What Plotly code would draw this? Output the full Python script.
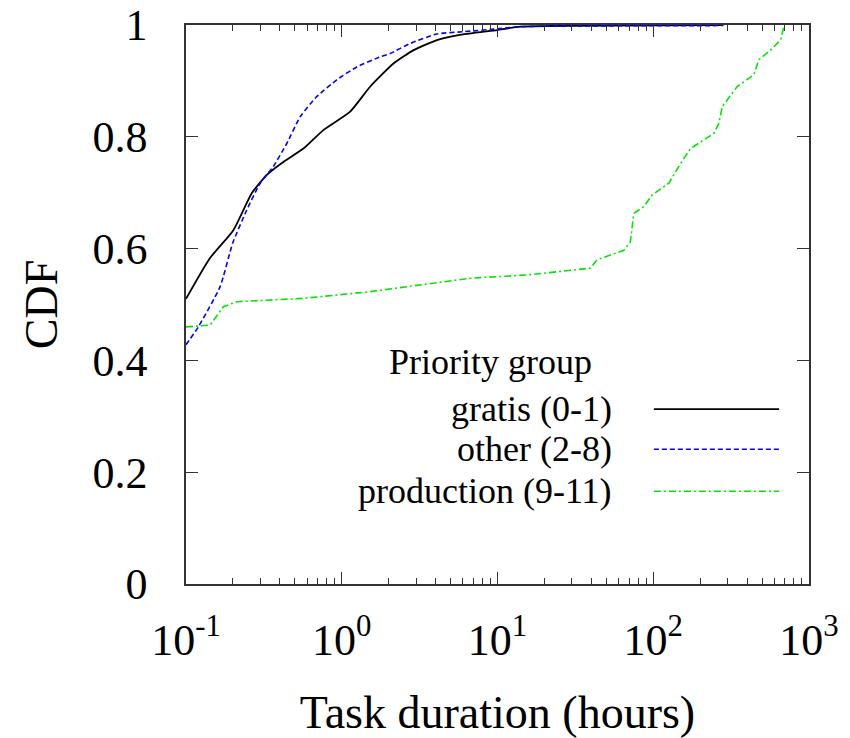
import plotly.graph_objects as go

# Task duration CDFs (hours) per priority group
gratis_hours = [0.1, 0.1426, 0.2014, 0.2642, 0.3304, 0.4217, 0.5675, 0.7621, 1.132,
                1.524, 2.148, 2.891, 4.083, 5.623, 9.93, 14.03, 281.8]
gratis_cdf = [0.510, 0.583, 0.633, 0.699, 0.732, 0.755, 0.779, 0.812, 0.845,
              0.890, 0.931, 0.955, 0.973, 0.982, 0.991, 0.997, 1.0]

other_hours = [0.1, 0.12, 0.1656, 0.1995, 0.2455, 0.2992, 0.3639, 0.4436, 0.5408,
               0.6918, 0.929, 1.250, 1.766, 2.046, 2.754, 4.083, 6.026, 9.93, 14.03, 281.8]
other_cdf = [0.428, 0.460, 0.532, 0.610, 0.669, 0.717, 0.747, 0.788, 0.836,
             0.872, 0.902, 0.925, 0.943, 0.949, 0.967, 0.984, 0.988, 0.993, 0.997, 0.999]

production_hours = [0.1, 0.1426, 0.1738, 0.2118, 0.5675, 1.524, 4.083, 6.683, 15.85,
                    25.35, 39.45, 43.55, 64.71, 71.29, 73.28, 74.99, 86.90, 98.4,
                    125.9, 149.6, 173.4, 244.9, 263.6, 277.3, 345.9, 442.6, 476.4,
                    566.2, 656.1, 690.2]
production_cdf = [0.460, 0.463, 0.496, 0.505, 0.511, 0.523, 0.539, 0.547, 0.553,
                  0.559, 0.565, 0.580, 0.597, 0.612, 0.640, 0.663, 0.675, 0.696,
                  0.717, 0.752, 0.779, 0.806, 0.824, 0.854, 0.890, 0.911, 0.938,
                  0.955, 0.973, 0.997]

series_names = ["gratis (0-1)", "other (2-8)", "production (9-11)"]
series_colors = ["#000000", "#0000ff", "#00e600"]
series_dash = ["solid", "5px,3px", "7px,3px,2px,3px"]
series_width = [1.8, 1.6, 1.6]
series_shape = ["spline", "spline", "linear"]

x_tickvals = [0.1, 1, 10, 100, 1000]
x_ticktext = ["10<sup>-1</sup>", "10<sup>0</sup>", "10<sup>1</sup>",
              "10<sup>2</sup>", "10<sup>3</sup>"]
y_tickvals = [0, 0.2, 0.4, 0.6, 0.8, 1]
y_ticktext = ["0", "0.2", "0.4", "0.6", "0.8", "1"]

FONT = "'Liberation Serif', 'Times New Roman', serif"

fig = go.Figure()
data = [(gratis_hours, gratis_cdf), (other_hours, other_cdf),
        (production_hours, production_cdf)]
for (xs, ys), name, color, dash, w, shp in zip(data, series_names, series_colors,
                                               series_dash, series_width,
                                               series_shape):
    fig.add_trace(go.Scatter(x=xs, y=ys, mode="lines", name=name,
                             line=dict(color=color, dash=dash, width=w,
                                       shape=shp, smoothing=0.5),
                             showlegend=False))

# Legend block: title, right-aligned labels with line samples to their right
legend_rows_y = [0.313, 0.241, 0.166]
fig.add_annotation(x=0.488, y=0.397, xref="paper", yref="paper",
                   text="Priority group", showarrow=False,
                   font=dict(family=FONT, size=36, color="#000"),
                   xanchor="center", yanchor="middle")
for name, color, dash, w, yy in zip(series_names, series_colors, series_dash,
                                    series_width, legend_rows_y):
    fig.add_annotation(x=0.687, y=yy, xref="paper", yref="paper", text=name,
                       showarrow=False, xanchor="right", yanchor="middle",
                       font=dict(family=FONT, size=36, color="#000"))
    fig.add_shape(type="line", xref="paper", yref="paper",
                  x0=0.751, x1=0.952, y0=yy, y1=yy,
                  line=dict(color=color, dash=dash, width=w))

minor_x = [m * 10 ** e for e in (-1, 0, 1, 2) for m in range(2, 10)]

fig.update_xaxes(type="log", range=[-1, 3], tickmode="array",
                 tickvals=x_tickvals, ticktext=x_ticktext,
                 ticks="inside", ticklen=12, tickwidth=1.2, tickcolor="#333",
                 minor=dict(tickmode="array", tickvals=minor_x, ticks="inside",
                            ticklen=6, tickwidth=1.2, tickcolor="#333"),
                 showline=True, linecolor="#333", linewidth=1.5, mirror="ticks",
                 showgrid=False, zeroline=False,
                 tickfont=dict(family=FONT, size=44, color="#000"),
                 ticklabelstandoff=16,
                 title=dict(text="Task duration (hours)", standoff=34,
                            font=dict(family=FONT, size=46, color="#000")))
fig.update_yaxes(range=[0, 1], tickmode="array", tickvals=y_tickvals,
                 ticktext=y_ticktext,
                 ticks="inside", ticklen=12, tickwidth=1.2, tickcolor="#333",
                 showline=True, linecolor="#333", linewidth=1.5, mirror="ticks",
                 showgrid=False, zeroline=False,
                 tickfont=dict(family=FONT, size=44, color="#000"),
                 ticklabelstandoff=28,
                 title=dict(text="CDF", standoff=20,
                            font=dict(family=FONT, size=46, color="#000")))

fig.update_layout(width=850, height=738,
                  margin=dict(l=186, r=41, t=25, b=154, autoexpand=False),
                  paper_bgcolor="white", plot_bgcolor="white",
                  showlegend=False)

fig.write_html("out.html")
